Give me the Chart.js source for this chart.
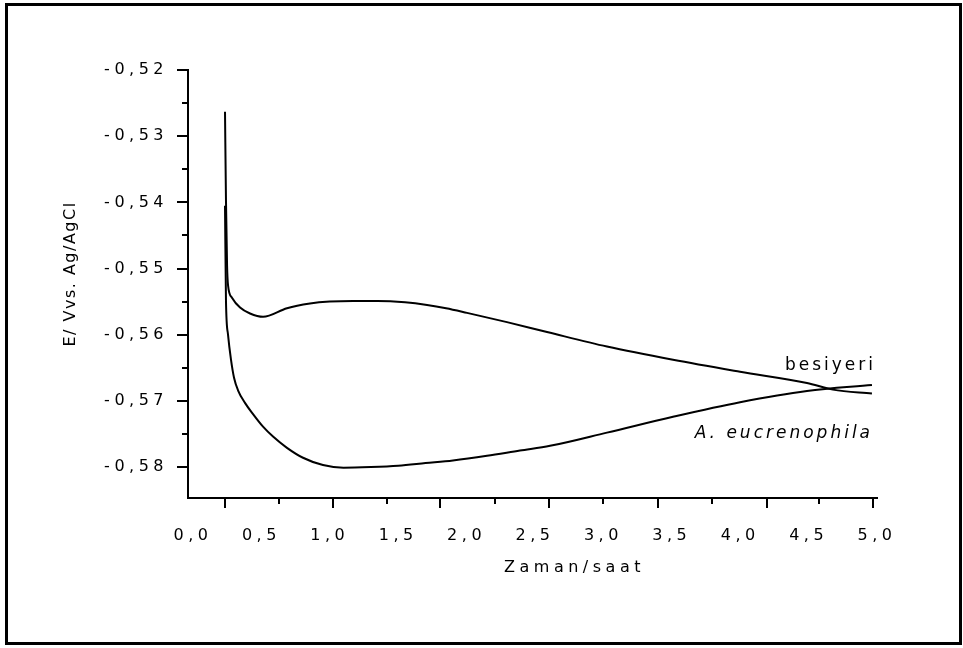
<!DOCTYPE html>
<html>
<head>
<meta charset="utf-8">
<script src="https://cdn.jsdelivr.net/npm/chart.js@4.4.1/dist/chart.umd.min.js"></script>
<style>
html, body { margin: 0; padding: 0; background: #fff; }
#wrap { width: 963px; height: 648px; }
</style>
</head>
<body>
<div id="wrap"><canvas id="chart"></canvas></div>
<script>
// time in hours, potential in V vs Ag/AgCl
const besiyeriTime = [0.234, 0.241, 0.249, 0.256, 0.285, 0.344, 0.417, 0.512, 0.687, 0.855, 1.000, 1.170, 1.350, 1.550, 1.711, 1.850, 2.003, 2.295, 2.588, 3.026, 3.509, 3.999, 4.488, 4.678, 4.963];
const besiyeriE = [-0.5263, -0.5396, -0.5495, -0.5525, -0.5544, -0.5559, -0.5568, -0.5573, -0.5560, -0.5553, -0.5550, -0.5549, -0.5549, -0.5551, -0.5555, -0.5560, -0.5567, -0.5581, -0.5596, -0.5618, -0.5638, -0.5656, -0.5673, -0.5683, -0.5689];

const eucrenoTime = [0.234, 0.241, 0.256, 0.278, 0.300, 0.329, 0.380, 0.439, 0.512, 0.585, 0.687, 0.804, 0.950, 1.100, 1.300, 1.500, 1.700, 1.900, 2.149, 2.390, 2.610, 3.026, 3.509, 3.999, 4.488, 4.963];
const eucrenoE = [-0.5405, -0.5548, -0.5600, -0.5638, -0.5665, -0.5684, -0.5703, -0.5720, -0.5739, -0.5754, -0.5771, -0.5786, -0.5797, -0.5801, -0.5800, -0.5798, -0.5794, -0.5790, -0.5783, -0.5775, -0.5768, -0.5748, -0.5724, -0.5702, -0.5685, -0.5676];

// tick marks (the original's marks don't line up with its labels)
const xMajorTicks = [0.234, 1.023, 1.806, 2.602, 3.399, 4.196, 4.971];
const xMinorTicks = [0.629, 1.418, 2.208, 2.997, 3.794, 4.576];
const yMajorTicks = [-0.52, -0.53, -0.54, -0.55, -0.56, -0.57, -0.58];
const yMinorTicks = [-0.525, -0.535, -0.545, -0.555, -0.565, -0.575];

const curveLabels = ["besiyeri", "A. eucrenophila"];
const curveLabelTime = [4.993, 4.971];
const curveLabelE = [-0.56534, -0.57561];
const curveLabelStyle = ["", "italic "];

const toPoints = (xs, ys) => xs.map((x, i) => ({ x, y: ys[i] }));

const decor = {
    id: "decor",
    beforeDraw(chart) {
        const ctx = chart.ctx;
        ctx.save();
        ctx.fillStyle = "#fff";
        ctx.fillRect(0, 0, chart.width, chart.height);
        ctx.restore();
        ctx.letterSpacing = "4.5px";
    },
    afterDraw(chart) {
        const { ctx, chartArea, scales: { x, y } } = chart;
        ctx.save();
        ctx.strokeStyle = "#000";
        ctx.lineWidth = 2;
        ctx.beginPath();
        xMajorTicks.forEach(v => {
            const px = Math.round(x.getPixelForValue(v));
            ctx.moveTo(px, chartArea.bottom);
            ctx.lineTo(px, chartArea.bottom + 10);
        });
        xMinorTicks.forEach(v => {
            const px = Math.round(x.getPixelForValue(v));
            ctx.moveTo(px, chartArea.bottom);
            ctx.lineTo(px, chartArea.bottom + 6);
        });
        yMajorTicks.forEach(v => {
            const py = Math.round(y.getPixelForValue(v));
            ctx.moveTo(chartArea.left, py);
            ctx.lineTo(chartArea.left - 11, py);
        });
        yMinorTicks.forEach(v => {
            const py = Math.round(y.getPixelForValue(v));
            ctx.moveTo(chartArea.left, py);
            ctx.lineTo(chartArea.left - 6, py);
        });
        ctx.stroke();

        // outer frame
        ctx.lineWidth = 3;
        ctx.strokeRect(6.5, 4.5, 954, 639);

        ctx.fillStyle = "#000";
        ctx.font = "16px 'DejaVu Sans'";
        ctx.letterSpacing = "4.5px";
        ctx.textAlign = "center";
        ctx.textBaseline = "middle";
        ctx.fillText("Zaman/saat", (chartArea.left + chartArea.right) / 2 + 42, 568);

        ctx.save();
        ctx.translate(71, 274);
        ctx.rotate(-Math.PI / 2);
        ctx.letterSpacing = "1.5px";
        ctx.fillText("E/ Vvs. Ag/AgCl", 0, 0);
        ctx.restore();

        ctx.letterSpacing = "3px";
        ctx.textAlign = "right";
        ctx.textBaseline = "alphabetic";
        curveLabels.forEach((t, i) => {
            ctx.font = curveLabelStyle[i] + "17px 'DejaVu Sans'";
            ctx.fillText(t, x.getPixelForValue(curveLabelTime[i]), y.getPixelForValue(curveLabelE[i]));
        });
        ctx.restore();
    }
};

const tickFont = { family: "'DejaVu Sans'", size: 16 };

new Chart(document.getElementById("chart"), {
    type: "line",
    data: {
        datasets: [
            { label: "besiyeri", data: toPoints(besiyeriTime, besiyeriE) },
            { label: "A. eucrenophila", data: toPoints(eucrenoTime, eucrenoE) }
        ].map(d => ({
            ...d,
            borderColor: "#000",
            borderWidth: 2,
            pointRadius: 0,
            cubicInterpolationMode: "monotone",
            fill: false
        }))
    },
    options: {
        responsive: true,
        maintainAspectRatio: false,
        animation: false,
        layout: { padding: { top: 70, right: 86, bottom: 0, left: 0 } },
        plugins: {
            legend: { display: false },
            tooltip: { enabled: false }
        },
        scales: {
            x: {
                type: "linear",
                min: -0.0365,
                max: 5,
                afterFit(scale) { scale.height = 150; },
                border: { display: true, color: "#000", width: 2 },
                grid: { display: false },
                ticks: {
                    stepSize: 0.5,
                    includeBounds: false,
                    autoSkip: false,
                    maxRotation: 0,
                    color: "#000",
                    font: tickFont,
                    padding: 20,
                    callback: v => v.toFixed(1).replace(".", ",")
                }
            },
            y: {
                min: -0.58468,
                max: -0.52,
                afterFit(scale) { scale.width = 188; },
                border: { display: true, color: "#000", width: 2 },
                grid: { display: false },
                ticks: {
                    stepSize: 0.01,
                    includeBounds: false,
                    color: "#000",
                    font: tickFont,
                    padding: 12,
                    callback: v => v.toFixed(2).replace(".", ",")
                }
            }
        }
    },
    plugins: [decor]
});
</script>
</body>
</html>
